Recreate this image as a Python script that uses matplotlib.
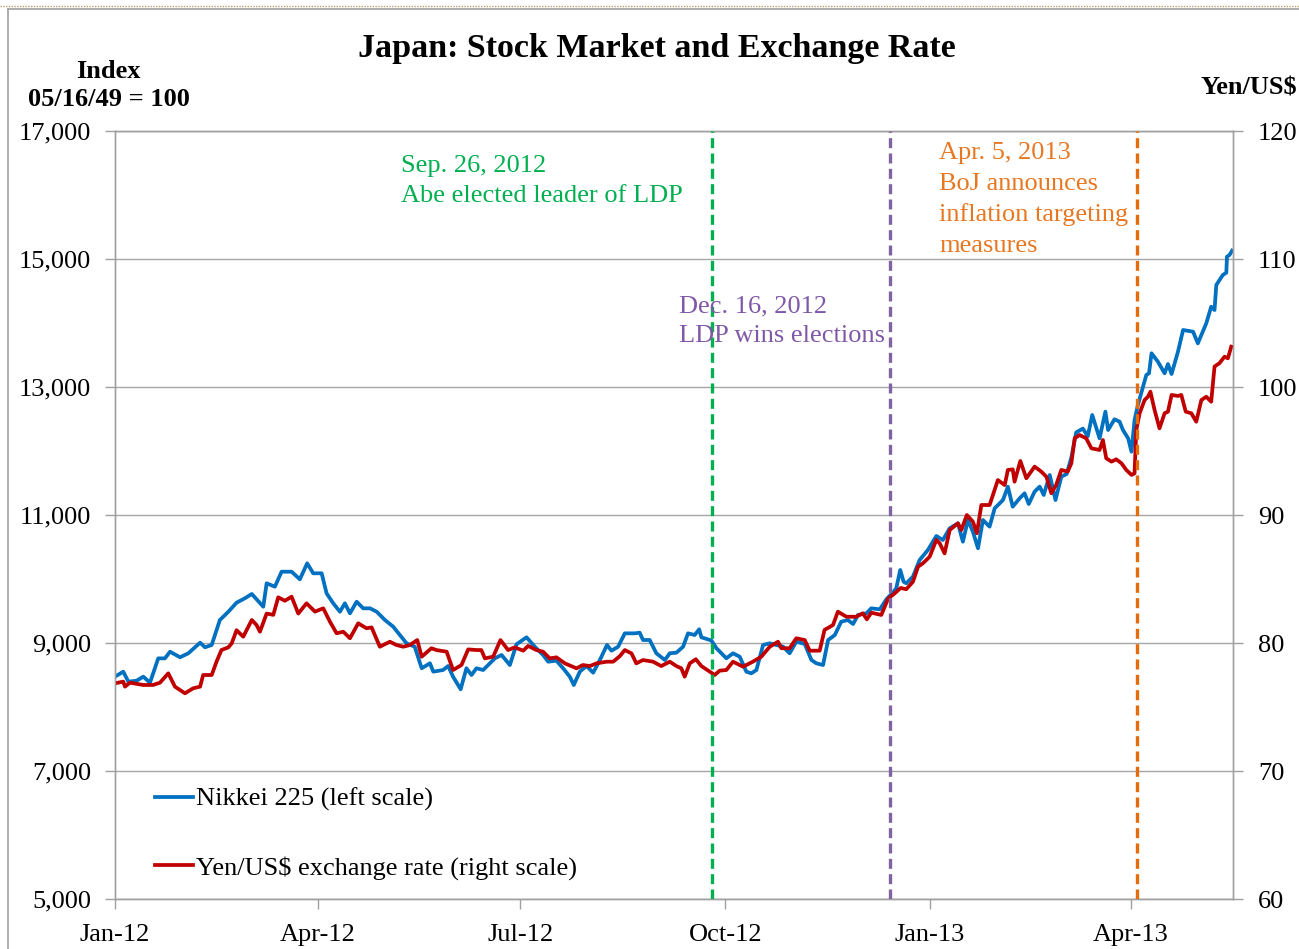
import numpy as np
import matplotlib
matplotlib.use("Agg")
import matplotlib.pyplot as plt
import matplotlib.dates as mdates
from matplotlib.lines import Line2D

# ---------------- data ----------------
base_date = np.datetime64("2012-01-01")

# Nikkei 225: days since 2012-01-01 and index level
nikkei_day = [0, 3.7, 6.0, 9.7, 12.7, 15.7, 19.4, 22.4, 24.7, 29.2, 32.9, 38.2, 40.4, 43.4, 47.1,
              50.9, 54.6, 58.3, 61.4, 66.6, 68.1, 71.8, 74.8, 79.3, 83.0, 86.3, 89.0, 92.8, 95.0,
              98.0, 101.0, 103.2, 105.5, 108.5, 111.4, 114.5, 117.5, 121.2, 124.9, 127.9, 130.9,
              134.6, 137.7, 141.4, 142.9, 147.3, 149.6, 151.8, 155.2, 157.8, 160.1, 162.3, 165.3,
              168.3, 170.6, 173.6, 177.3, 180.3, 184.8, 188.5, 192.2, 194.5, 198.2, 201.2, 204.2,
              206.0, 208.7, 211.7, 214.7, 217.7, 220.9, 222.9, 225.9, 228.9, 233.4, 235.6, 237.1,
              240.1, 243.1, 246.9, 249.1, 252.1, 255.1, 257.3, 260.3, 262.3, 263.3, 267.8, 270.0,
              274.5, 277.5, 280.5, 283.5, 285.7, 288.0, 291.0, 294.0, 297.0, 300.0, 302.9, 305.9,
              309.7, 312.7, 314.9, 317.9, 320.2, 323.2, 326.1, 329.1, 331.4, 333.6, 337.4, 339.6,
              343.4, 346.4, 349.3, 350.8, 352.6, 354.1, 355.3, 358.3, 361.3, 365.0, 368.8, 371.7,
              374.8, 378.5, 380.7, 383.0, 385.2, 387.5, 389.7, 392.7, 395.0, 398.7, 400.9, 403.1,
              406.2, 408.4, 410.3, 412.9, 415.2, 417.0, 419.7, 422.3, 424.9, 427.3, 429.4, 431.6,
              434.6, 436.8, 438.8, 442.1, 444.7, 445.9, 448.8, 451.1, 452.6, 454.9, 456.4, 457.8,
              459.3, 463.1, 464.3, 465.4, 468.3, 471.3, 472.8, 474.4, 477.3, 479.6, 484.1, 486.2,
              490.0, 492.2, 493.7, 494.5, 497.4, 499.0, 499.3, 500.4, 501.6]
nikkei_val = [8474, 8552, 8396, 8411, 8474, 8380, 8760, 8760, 8864, 8777, 8839, 9005, 8933, 8969, 9359,
              9489, 9630, 9698, 9766, 9567, 9933, 9880, 10114, 10114, 9995, 10245, 10089, 10089, 9776,
              9620, 9489, 9620, 9464, 9645, 9542, 9542, 9489, 9359, 9255, 9125, 8995,
              8942, 8605, 8683, 8552, 8578, 8641, 8474, 8277, 8605, 8500, 8605, 8578,
              8683, 8761, 8813, 8656, 8980, 9089, 8942, 8813, 8708, 8724, 8605, 8474,
              8344, 8552, 8641, 8536, 8734, 8969, 8880, 8942, 9151, 9151, 9161, 9047,
              9047, 8839, 8734, 8839, 8849, 8942, 9151, 9125, 9214, 9089, 9040, 8920,
              8761, 8839, 8786, 8552, 8526, 8578, 8969, 8995, 8969, 8942, 8839, 9021,
              8985, 8734, 8683, 8656, 9047, 9125, 9333, 9359, 9297, 9438, 9464, 9542,
              9526, 9685, 9790, 9855, 10141, 9958, 9933, 10036, 10297, 10453, 10672, 10609,
              10792, 10870, 10583, 10922, 10739, 10480, 10922, 10818, 11105, 11234, 11443, 11130,
              11261, 11339, 11172, 11365, 11443, 11313, 11625, 11234, 11599, 11640, 11900, 12290,
              12350, 12230, 12563, 12198, 12615, 12328, 12495, 12458, 12328, 12198, 11989, 12484,
              12719, 13188, 13214, 13527, 13395, 13214, 13359, 13203, 13552, 13891, 13864, 13682,
              13995, 14255, 14203, 14594, 14750, 14786, 15036, 15063, 15130]

# Yen/US$: days since 2012-01-01 and exchange rate
yen_day = [0, 3.7, 4.5, 6.7, 12.7, 17.1, 20.2, 23.9, 26.9, 31.4, 35.1, 38.2, 39.6, 43.4, 45.6,
           47.8, 50.9, 52.4, 54.6, 57.6, 61.4, 63.6, 65.1, 68.1, 71.1, 73.3, 76.3, 79.3, 82.3,
           86.0, 89.8, 93.5, 96.5, 99.5, 102.5, 105.5, 109.2, 112.9, 115.2, 118.9, 123.4,
           126.4, 129.4, 132.4, 135.7, 137.7, 142.1, 144.3, 148.9, 151.8, 155.6, 158.6, 162.3,
           164.5, 166.1, 169.8, 173.1, 176.5, 179.5, 183.3, 185.5, 189.2, 192.2, 195.2, 198.2,
           202.0, 207.2, 210.1, 213.2, 216.2, 220.7, 223.7, 226.7, 228.9, 231.9, 234.1, 237.1,
           241.6, 245.3, 249.1, 252.1, 254.3, 255.8, 258.1, 260.8, 263.3, 267.1, 269.3, 271.5,
           274.5, 277.5, 282.0, 286.4, 290.2, 294.0, 297.7, 299.2, 302.9, 305.9, 309.7, 311.9,
           316.4, 318.6, 322.4, 324.6, 328.4, 332.8, 335.8, 337.6, 339.6, 344.1, 347.1, 350.1,
           352.8, 355.3, 358.3, 360.6, 362.8, 365.8, 368.8, 370.3, 372.5, 374.8, 378.5, 380.0,
           382.5, 385.2, 387.0, 389.0, 392.7, 396.4, 399.5, 400.9, 403.1, 403.9, 406.5, 409.2,
           412.9, 415.9, 418.2, 420.4, 422.6, 424.9, 427.8, 429.4, 430.9, 433.1, 436.1, 438.4,
           442.1, 443.6, 445.1, 447.4, 449.6, 451.9, 454.1, 456.4, 457.8, 458.6, 460.1, 462.3,
           463.8, 464.9, 466.8, 469.0, 471.3, 472.8, 474.4, 477.3, 478.8, 480.8, 483.3, 485.5,
           487.8, 490.0, 492.2, 493.7, 495.9, 498.2, 499.7, 501.2]
yen_val = [76.85, 76.98, 76.59, 76.90, 76.72, 76.72, 76.90, 77.63, 76.59, 76.07, 76.46, 76.59, 77.50, 77.50, 78.54,
           79.45, 79.66, 79.98, 81.00, 80.49, 81.80, 81.40, 80.88, 82.30, 82.20, 83.57, 83.30, 83.62, 82.30,
           83.10, 82.45, 82.71, 81.67, 80.76, 80.88, 80.37, 81.54, 81.15, 81.22, 79.71, 80.10,
           79.84, 79.71, 79.84, 80.23, 78.93, 79.59, 79.45, 79.32, 77.89, 78.28, 79.50, 79.45,
           79.45, 78.80, 78.93, 80.23, 79.45, 79.66, 79.40, 79.77, 79.45, 79.32, 78.80, 78.88,
           78.41, 78.02, 78.28, 78.20, 78.41, 78.54, 78.54, 78.98, 79.45, 79.19, 78.41, 78.67,
           78.54, 78.20, 78.54, 78.20, 78.02, 77.37, 78.41, 78.73, 78.20, 77.76, 77.50, 77.84,
           77.89, 78.54, 78.15, 78.54, 78.93, 79.71, 80.10, 79.59, 79.59, 80.37, 80.23, 79.40,
           79.40, 81.02, 81.41, 82.45, 82.05, 82.05, 82.32, 81.85, 82.37, 82.19, 83.45, 83.88,
           84.30, 84.20, 84.79, 85.96, 86.23, 86.74, 88.05, 87.79, 87.00, 88.83, 89.35, 88.83,
           90.00, 89.48, 88.57, 90.78, 90.78, 92.73, 92.34, 93.52, 93.57, 92.60, 94.22, 92.87,
           93.78, 93.39, 92.99, 91.70, 92.34, 93.52, 93.39, 94.04, 95.99, 96.25, 95.99, 95.21,
           95.08, 95.86, 94.43, 94.17, 94.35, 94.04, 93.52, 93.13, 93.26, 96.64, 97.95, 98.98,
           99.24, 99.63, 98.20, 96.77, 97.95, 98.07, 99.38, 99.30, 99.38, 98.07, 97.95, 97.29,
           98.98, 99.24, 98.85, 101.60, 101.86, 102.37, 102.24, 103.15]

tick_months = ["2012-01-01", "2012-04-01", "2012-07-01", "2012-10-01", "2013-01-01", "2013-04-01"]
x_start, x_end = "2012-01-01", "2013-05-17"

event_dates = ["2012-09-25", "2012-12-14", "2013-04-04"]
event_labels = ["Sep. 26, 2012\nAbe elected leader of LDP",
                "Dec. 16, 2012\nLDP wins elections",
                "Apr. 5, 2013\nBoJ announces\ninflation targeting\nmeasures"]
event_colors = ["#00B050", "#8064A2", "#E46C0A"]

left_ticks = [5000, 7000, 9000, 11000, 13000, 15000, 17000]
right_ticks = [60, 70, 80, 90, 100, 110, 120]

# ---------------- figure ----------------
W, H = 1299, 949
fig = plt.figure(figsize=(W / 100, H / 100), dpi=100)
serif = "Liberation Serif"
plt.rcParams["font.family"] = [serif, "DejaVu Serif"]


def fx(px):
    return px / W


def fy(py):
    return 1 - py / H


def as_dt(d):
    return np.datetime64(d).astype("datetime64[ms]").astype(object)


ax = fig.add_axes([fx(115), fy(899), fx(1233) - fx(115), fy(131) - fy(899)])
ax2 = ax.twinx()

nk_dates = base_date + np.round(np.array(nikkei_day) * 24).astype("timedelta64[h]")
fx_dates = base_date + np.round(np.array(yen_day) * 24).astype("timedelta64[h]")

ax.plot(nk_dates.astype("datetime64[ms]").astype(object), nikkei_val, color="#0070C0", lw=2.7,
        solid_joinstyle="round", label="Nikkei 225 (left scale)")
ax2.plot(fx_dates.astype("datetime64[ms]").astype(object), yen_val, color="#C00000", lw=2.7,
         solid_joinstyle="round", label="Yen/US\\$ exchange rate (right scale)")

ax.set_ylim(5000, 17000)
ax2.set_ylim(60, 120)
ax.set_yticks(left_ticks)
ax.set_yticklabels([f"{v:,}" for v in left_ticks])
ax2.set_yticks(right_ticks)

ax.set_xlim(as_dt(x_start), as_dt(x_end))
ax.set_xticks([as_dt(d) for d in tick_months])
ax.xaxis.set_major_formatter(mdates.DateFormatter("%b-%y"))

ax.grid(axis="y", color="#A6A6A6", lw=1.0)
ax.set_axisbelow(True)
for a in (ax, ax2):
    for s in a.spines.values():
        s.set_color("#A0A0A0")
        s.set_linewidth(1.0)
    a.tick_params(colors="#A0A0A0", labelcolor="black", labelsize=19, length=7, width=1.0)
ax.tick_params(axis="x", pad=11)
ax.tick_params(axis="y", pad=10)
ax2.tick_params(axis="y", pad=11)

# event lines
for d, c in zip(event_dates, event_colors):
    ax2.axvline(as_dt(d), color=c, lw=2.4, ls=(0, (3, 1.6)), zorder=5)

# event annotations
txt_kw = dict(fontsize=19, va="top", ha="left", linespacing=1.5)
fig.text(fx(401), fy(155), event_labels[0], color="#00B050", **txt_kw)
fig.text(fx(679), fy(295), event_labels[1], color="#7F58A8", **txt_kw)
fig.text(fx(939), fy(142), event_labels[2], color="#E87722", **txt_kw)

# titles and axis labels
fig.text(fx(657), fy(48), "Japan: Stock Market and Exchange Rate", ha="center", va="center",
         fontsize=24.5, fontweight="bold")
fig.text(fx(108), fy(71), "Index", ha="center", va="center", fontsize=19, fontweight="bold")
fig.text(fx(109), fy(99), "05/16/49 = 100", ha="center", va="center", fontsize=19, fontweight="bold")
fig.text(fx(1297), fy(88), "Yen/US\\$", ha="right", va="center", fontsize=19, fontweight="bold")

# legend
h1, l1 = ax.get_legend_handles_labels()
h2, l2 = ax2.get_legend_handles_labels()
leg = ax2.legend(h1 + h2, l1 + l2, loc="lower left", bbox_to_anchor=(0.0145, -0.006), frameon=False,
                 fontsize=19, handlelength=1.44, handletextpad=0.1, labelspacing=1.69)

# outer chart frame
fig.add_artist(Line2D([fx(8), fx(8)], [fy(9), 0], color="#A0A0A0", lw=1.2))
fig.add_artist(Line2D([fx(8), 1], [fy(9), fy(9)], color="#A0A0A0", lw=1.2))
fig.add_artist(Line2D([0, 1], [fy(6), fy(6)], color="#B8A070", lw=1.0, ls=(0, (1, 1))))

fig.savefig("out.png", dpi=100)
